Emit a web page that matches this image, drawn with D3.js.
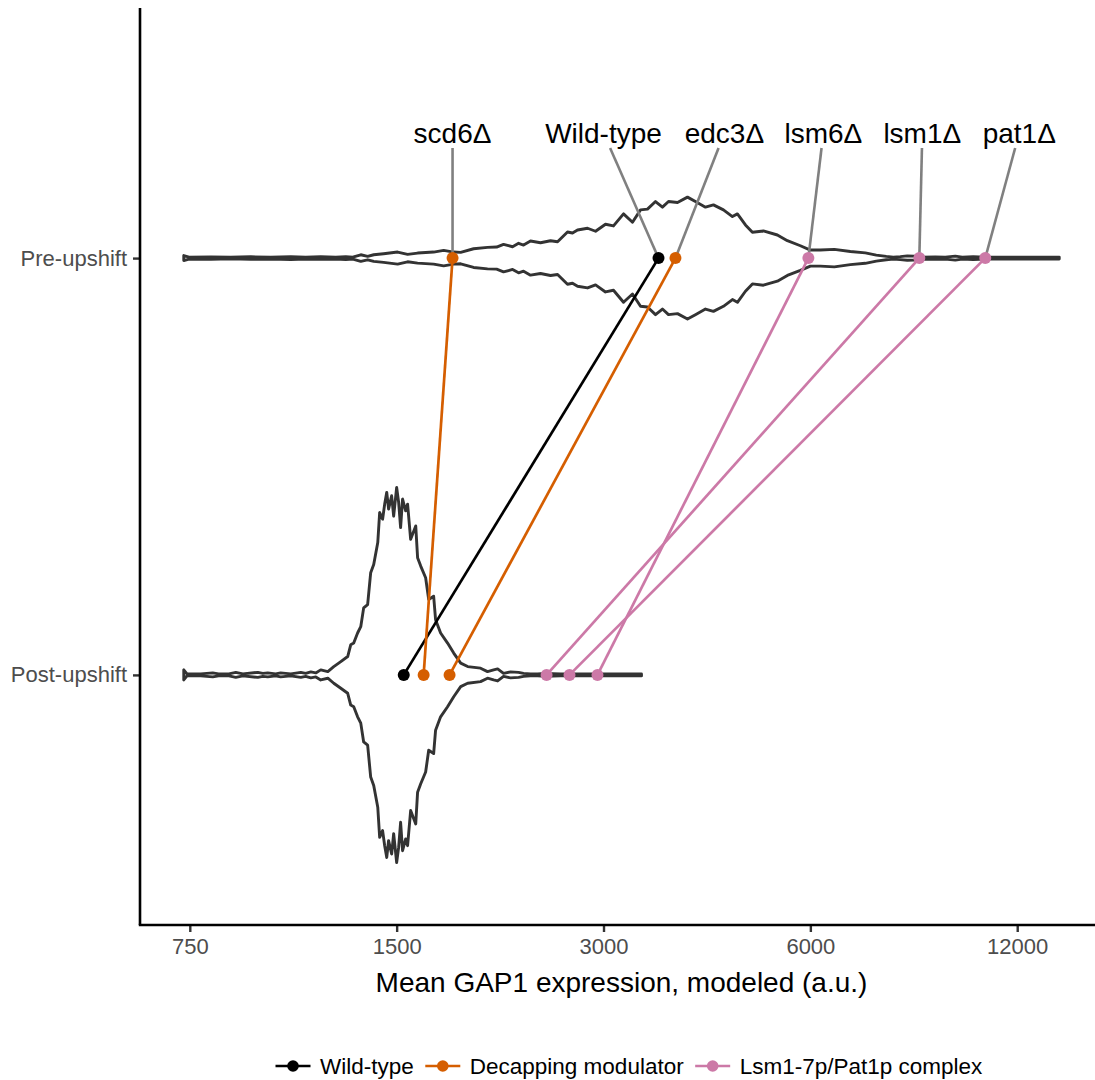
<!DOCTYPE html>
<html>
<head>
<meta charset="utf-8">
<script src="https://cdn.jsdelivr.net/npm/d3@7"></script>
<style>
  body { margin: 0; background: #fff; }
  text { font-family: "Liberation Sans", Arial, sans-serif; }
</style>
</head>
<body>
<div class="chart"></div>
<script>
// ---- data ----
var conditions = ["Post-upshift", "Pre-upshift"];
var tickValues = [750, 1500, 3000, 6000, 12000];

var strains   = ["Wild-type", "scd6Δ", "edc3Δ", "lsm6Δ", "lsm1Δ", "pat1Δ"];
var strainGrp = ["Wild-type", "Decapping modulator", "Decapping modulator",
                 "Lsm1-7p/Pat1p complex", "Lsm1-7p/Pat1p complex", "Lsm1-7p/Pat1p complex"];
var preMean   = [3607, 1809, 3818, 5960, 8644, 10781];
var postMean  = [1536, 1642, 1791, 2940, 2479, 2677];
var labelAt   = [3000, 1809, 4499, 6267, 8731, 12082];

var groups = ["Wild-type", "Decapping modulator", "Lsm1-7p/Pat1p complex"];
var groupColors = ["#000000", "#D55E00", "#CC79A7"];

// violin outlines (expression value, density in arbitrary units)
var preX = [735, 748, 805, 860, 920, 984, 1052, 1106, 1163, 1223, 1265, 1295, 1330, 1361, 1389, 1436,
  1505, 1556, 1609, 1698, 1756, 1816, 1859, 1941, 2034, 2097, 2146, 2212, 2257, 2295, 2349, 2429,
  2512, 2572, 2659, 2704, 2750, 2844, 2921, 3020, 3102, 3208, 3306, 3396, 3476, 3571, 3655, 3730,
  3844, 3975, 4082, 4222, 4336, 4484, 4621, 4699, 4827, 4941, 5126, 5372, 5555, 5803, 6000, 6204,
  6502, 6860, 7213, 7484, 7739, 7922, 8110, 8302, 8499, 8701, 9119, 9430, 9751, 9982, 10357, 10781,
  11336, 12122, 12962, 13814];
var preDens = [2.5, 1, 1.2, 0.8, 1.3, 1, 1.4, 0.9, 1.3, 1, 1.5, 1, 3.3, 1.7, 3.3, 4.3,
  6, 3.7, 5, 6, 7.7, 6, 5.7, 9.3, 10.7, 11, 13.7, 11.3, 14.7, 13, 17, 15.3,
  17.3, 16.3, 26, 25, 28, 29.7, 26.7, 33.7, 32, 44, 35.7, 48, 48.7, 56.3, 50.7, 56.3,
  55.3, 60.7, 56.3, 50.7, 53, 48, 41.3, 44, 33, 25.7, 27, 23, 17.3, 12.3, 8, 8,
  8.7, 6.5, 5.2, 3, 1.7, 1, 1.5, 2.2, 2, 1, 1.2, 1, 2, 1, 1.5, 1,
  1, 1, 1, 1];

var postX = [735, 743, 778, 810, 826, 855, 875, 896, 942, 958, 974, 1000, 1017, 1052, 1088, 1106,
  1125, 1144, 1163, 1191, 1215, 1244, 1273, 1286, 1299, 1316, 1330, 1343, 1361, 1375, 1389, 1408,
  1417, 1431, 1441, 1451, 1460, 1475, 1485, 1500, 1510, 1520, 1530, 1546, 1556, 1572, 1599, 1609,
  1626, 1653, 1670, 1698, 1709, 1738, 1779, 1816, 1859, 1903, 1987, 2034, 2076, 2104, 2146, 2197,
  2257, 2295, 2349, 2405, 2470, 2598, 2778, 2970, 3176, 3407];
var postDens = [5, 1, 1, 2, 1, 1, 2.5, 1, 2.5, 1.5, 2, 1, 2, 1, 2.5, 1.5,
  3, 2, 5, 3.3, 8.3, 13.3, 18.3, 30, 31.7, 41.7, 48, 66.7, 70, 101.7, 110, 131.7,
  161.7, 155, 170, 181.7, 165, 178.3, 158, 186.7, 171.7, 146.7, 175, 163.3, 170, 135, 148.3, 116.7,
  108.3, 96.7, 75, 78.3, 55, 41.7, 31.7, 21.7, 11.7, 8.3, 6.7, 3.3, 5, 6, 1.5, 3,
  2.5, 1.5, 1, 1, 1.5, 1, 1, 1, 1, 1];

// ---- layout ----
var svgWidth = 1095, svgHeight = 1080;
var panel = {left: 140, right: 1103, top: 8, bottom: 925};

var svg = d3.select(".chart").append("svg")
  .attr("width", svgWidth)
  .attr("height", svgHeight)
  .style("display", "block");

// x: log2 scale, 5% expansion of the data range (in log space)
var allX = preX.concat(postX);
var lo = Math.log2(d3.min(allX)), hi = Math.log2(d3.max(allX));
var pad = (hi - lo) * 0.05;
var x = d3.scaleLog().base(2)
  .domain([Math.pow(2, lo - pad), Math.pow(2, hi + pad)])
  .range([panel.left, panel.right]);

var y = d3.scalePoint()
  .domain(conditions)
  .range([panel.bottom, panel.top])
  .padding(0.6);

var maxDens = d3.max(preDens.concat(postDens));
var w = d3.scaleLinear().domain([0, maxDens]).range([0, y.step() * 0.45]);

var colorOf = d3.scaleOrdinal().domain(groups).range(groupColors);

// ---- violins ----
function violin(xs, ds, cond) {
  var pts = xs.map(function(v, i) { return {v: v, d: ds[i]}; });
  var cy = y(cond);
  var area = d3.area()
    .x(function(p) { return x(p.v); })
    .y0(function(p) { return cy - w(p.d); })
    .y1(function(p) { return cy + w(p.d); });
  svg.append("path")
    .attr("d", area(pts))
    .attr("fill", "white")
    .attr("stroke", "#333333")
    .attr("stroke-width", 2.9)
    .attr("stroke-linejoin", "round");
}
violin(preX, preDens, "Pre-upshift");
violin(postX, postDens, "Post-upshift");

// ---- axes ----
var xAxis = svg.append("g")
  .attr("transform", "translate(0," + panel.bottom + ")")
  .call(d3.axisBottom(x).tickValues(tickValues).tickFormat(d3.format("d")).tickSizeOuter(0).tickSize(7).tickPadding(6));
xAxis.select(".domain").remove();
xAxis.selectAll(".tick line").attr("stroke", "#333333").attr("stroke-width", 2.4);
xAxis.selectAll(".tick text").attr("fill", "#4D4D4D").style("font-size", "22px");

var yAxis = svg.append("g")
  .attr("transform", "translate(" + panel.left + ",0)")
  .call(d3.axisLeft(y).tickSize(7).tickPadding(6));
yAxis.select(".domain").remove();
yAxis.selectAll(".tick line").attr("stroke", "#333333").attr("stroke-width", 2.4);
yAxis.selectAll(".tick text").attr("fill", "#4D4D4D").style("font-size", "22px");

svg.append("line")
  .attr("x1", panel.left - 1.2).attr("x2", panel.right)
  .attr("y1", panel.bottom).attr("y2", panel.bottom)
  .attr("stroke", "black").attr("stroke-width", 2.6);
svg.append("line")
  .attr("x1", panel.left).attr("x2", panel.left)
  .attr("y1", panel.top).attr("y2", panel.bottom)
  .attr("stroke", "black").attr("stroke-width", 2.6);

svg.append("text")
  .attr("x", (panel.left + panel.right) / 2)
  .attr("y", 992)
  .attr("text-anchor", "middle")
  .style("font-size", "28px")
  .text("Mean GAP1 expression, modeled (a.u.)");

// ---- connecting lines between conditions ----
var strainData = strains.map(function(s, i) {
  return {name: s, group: strainGrp[i], pre: preMean[i], post: postMean[i], lab: labelAt[i]};
});

svg.selectAll(".link")
  .data(strainData)
  .enter().append("line")
  .attr("class", "link")
  .attr("x1", function(d) { return x(d.post); })
  .attr("y1", y("Post-upshift"))
  .attr("x2", function(d) { return x(d.pre); })
  .attr("y2", y("Pre-upshift"))
  .attr("stroke", function(d) { return colorOf(d.group); })
  .attr("stroke-width", 2.7);

// ---- repel-style labels with leader lines ----
var labelBase = 143, labelMid = 133, labelBottom = 148;
var yPre = y("Pre-upshift");
svg.selectAll(".leader")
  .data(strainData)
  .enter().append("line")
  .attr("class", "leader")
  .attr("x1", function(d) {
    var lx = x(d.lab), px = x(d.pre);
    return lx + (px - lx) * (labelBottom - labelMid) / (yPre - labelMid);
  })
  .attr("y1", labelBottom)
  .attr("x2", function(d) { return x(d.pre); })
  .attr("y2", yPre)
  .attr("stroke", "#808080")
  .attr("stroke-width", 2.6);

svg.selectAll(".lab")
  .data(strainData)
  .enter().append("text")
  .attr("class", "lab")
  .attr("x", function(d) { return x(d.lab); })
  .attr("y", labelBase)
  .attr("text-anchor", "middle")
  .style("font-size", "28px")
  .text(function(d) { return d.name; });

// ---- points ----
["pre", "post"].forEach(function(k) {
  var cond = k === "pre" ? "Pre-upshift" : "Post-upshift";
  svg.selectAll(".pt-" + k)
    .data(strainData)
    .enter().append("circle")
    .attr("class", "pt-" + k)
    .attr("cx", function(d) { return x(d[k]); })
    .attr("cy", y(cond))
    .attr("r", 6)
    .attr("fill", function(d) { return colorOf(d.group); });
});

// ---- legend ----
var legend = svg.append("g").attr("transform", "translate(0,1066)");
var cursor = 293;
groups.forEach(function(g, i) {
  var item = legend.append("g");
  item.append("line")
    .attr("x1", cursor - 17.5).attr("x2", cursor + 17.5)
    .attr("stroke", groupColors[i]).attr("stroke-width", 2.7);
  item.append("circle")
    .attr("cx", cursor).attr("r", 5.8)
    .attr("fill", groupColors[i]);
  var t = item.append("text")
    .attr("x", cursor + 27)
    .attr("y", 8)
    .style("font-size", "22.5px")
    .text(g);
  cursor = cursor + 27 + t.node().getComputedTextLength() + 29;
});
</script>
</body>
</html>
